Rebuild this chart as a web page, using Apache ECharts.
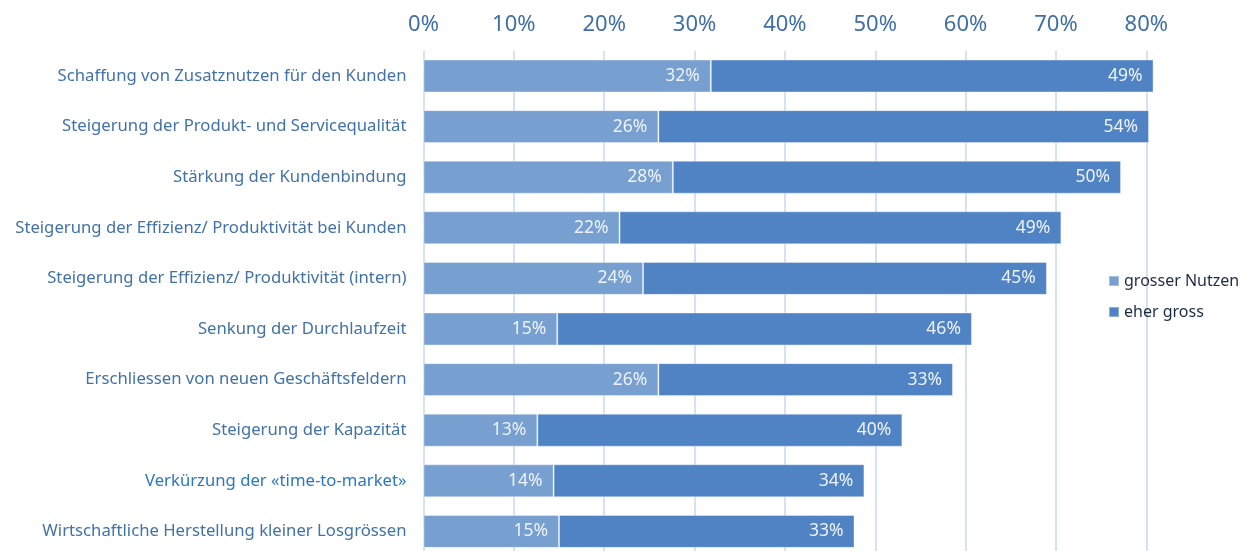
<!DOCTYPE html>
<html>
<head>
<meta charset="utf-8">
<script src="https://cdn.jsdelivr.net/npm/echarts@6/dist/echarts.min.js"></script>
<style>
  html, body { margin: 0; padding: 0; background: #fff; }
  #chart { width: 1253px; height: 551px; }
</style>
</head>
<body>
<div id="chart"></div>
<script>
var categories = [
  'Schaffung von Zusatznutzen für den Kunden',
  'Steigerung der Produkt- und Servicequalität',
  'Stärkung der Kundenbindung',
  'Steigerung der Effizienz/ Produktivität bei Kunden',
  'Steigerung der Effizienz/ Produktivität (intern)',
  'Senkung der Durchlaufzeit',
  'Erschliessen von neuen Geschäftsfeldern',
  'Steigerung der Kapazität',
  'Verkürzung der «time-to-market»',
  'Wirtschaftliche Herstellung kleiner Losgrössen'
];
var grosserNutzen = [31.8, 26.0, 27.6, 21.7, 24.3, 14.8, 26.0, 12.6, 14.4, 15.0];
var eherGross = [49.0, 54.3, 49.6, 48.9, 44.7, 45.9, 32.6, 40.4, 34.4, 32.7];
var seriesNames = ['grosser Nutzen', 'eher gross'];

var font = '"Noto Sans", sans-serif';

function barLabel() {
  return {
    show: true,
    position: 'insideRight',
    distance: 11,
    color: '#edf2f9',
    fontSize: 17.5,
    fontFamily: font,
    formatter: function (p) { return Math.round(p.value) + '%'; }
  };
}

var chart = echarts.init(document.getElementById('chart'));
chart.setOption({
  animation: false,
  grid: { left: 423.5, right: 106.7, top: 50.7, height: 506, outerBoundsMode: 'none' },
  legend: {
    orient: 'vertical',
    left: 1103,
    top: 268,
    itemWidth: 10,
    itemHeight: 10,
    itemGap: 15,
    icon: 'rect',
    textStyle: { color: '#1c2b44', fontSize: 16, fontFamily: font },
    data: seriesNames
  },
  xAxis: {
    type: 'value',
    position: 'top',
    min: 0,
    max: 80,
    interval: 10,
    axisLine: { show: false },
    axisTick: { show: false },
    splitLine: { lineStyle: { color: '#c8d9ef', width: 1.5 } },
    axisLabel: {
      formatter: '{value}%',
      color: '#3f6fa6',
      fontSize: 22,
      fontFamily: font,
      margin: 15
    }
  },
  yAxis: {
    type: 'category',
    inverse: true,
    data: categories,
    axisLine: { show: false },
    axisTick: { show: false },
    axisLabel: {
      color: function (v, i) { return i === 8 ? '#2a78c0' : '#4272a8'; },
      fontSize: 16.7,
      fontFamily: font,
      margin: 17
    }
  },
  series: [
    {
      name: seriesNames[0],
      type: 'bar',
      stack: 'a',
      clip: false,
      barCategoryGap: '35%',
      itemStyle: { color: '#77a0d1', borderColor: 'rgba(255,255,255,0.35)', borderWidth: 1 },
      label: barLabel(),
      data: grosserNutzen
    },
    {
      name: seriesNames[1],
      type: 'bar',
      stack: 'a',
      clip: false,
      barCategoryGap: '35%',
      itemStyle: { color: '#5083c4', borderColor: 'rgba(255,255,255,0.35)', borderWidth: 1 },
      label: barLabel(),
      data: eherGross
    }
  ]
});
</script>
</body>
</html>
